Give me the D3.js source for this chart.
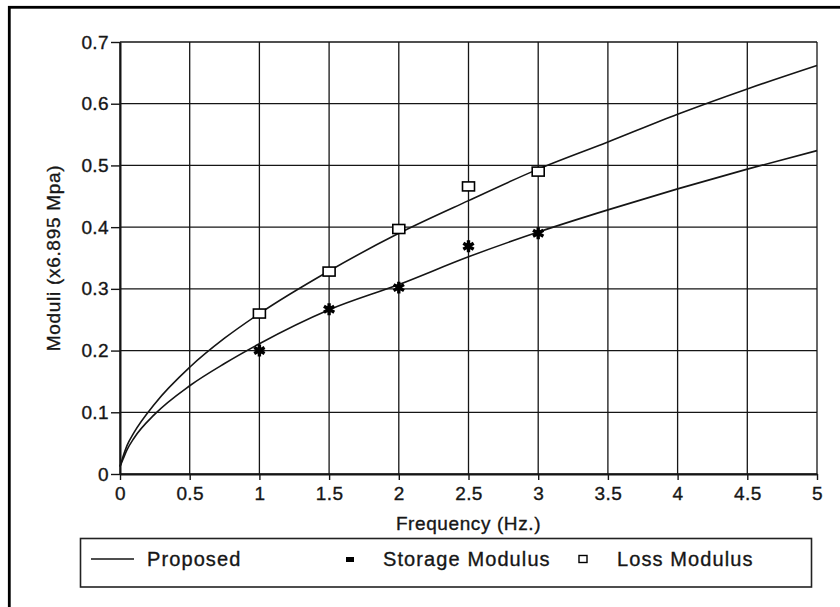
<!DOCTYPE html>
<html>
<head>
<meta charset="utf-8">
<script src="https://cdn.jsdelivr.net/npm/d3@7"></script>
<style>
  html, body { margin: 0; padding: 0; background: #fff; }
  svg { display: block; }
  text { font-family: "Liberation Sans", Arial, Helvetica, sans-serif; fill: #161616; stroke: #161616; stroke-width: 0.35px; }
</style>
</head>
<body>
<svg id="chart" width="840" height="607"></svg>
<script>
// ---- data ----
const xTicks = [0, 0.5, 1, 1.5, 2, 2.5, 3, 3.5, 4, 4.5, 5];
const yTicks = [0, 0.1, 0.2, 0.3, 0.4, 0.5, 0.6, 0.7];
const xTickLabels = ["0", "0.5", "1", "1.5", "2", "2.5", "3", "3.5", "4", "4.5", "5"];
const yTickLabels = ["0", "0.1", "0.2", "0.3", "0.4", "0.5", "0.6", "0.7"];

// "Proposed" model curves
const curveX     = [0, 0.02, 0.05, 0.1, 0.25, 0.5, 0.75, 1, 1.5, 2, 2.5, 3, 3.5, 4, 4.5, 5];
const curveLoss  = [0.012, 0.027, 0.046, 0.067, 0.114, 0.173, 0.220, 0.260, 0.329, 0.390, 0.443, 0.494, 0.538, 0.583, 0.624, 0.662];
const curveStore = [0.012, 0.023, 0.039, 0.058, 0.097, 0.143, 0.179, 0.211, 0.266, 0.307, 0.352, 0.392, 0.428, 0.462, 0.494, 0.524];

// measured points
const pointX        = [1, 1.5, 2, 2.5, 3];
const storageModulus = [0.200, 0.267, 0.302, 0.369, 0.390];
const lossModulus    = [0.260, 0.328, 0.397, 0.466, 0.490];

const legendLabels = ["Proposed", "Storage Modulus", "Loss Modulus"];
const xTitle = "Frequency (Hz.)";
const yTitle = "Moduli (x6.895 Mpa)";

// ---- drawing ----
const svg = d3.select("#chart");
const ink = "#151515";

// outer frame (only top and left edges are visible in the crop)
svg.append("rect")
  .attr("x", 9.3).attr("y", 7.3).attr("width", 900).attr("height", 700)
  .attr("fill", "none").attr("stroke", "#000").attr("stroke-width", 2.8);

const x = d3.scaleLinear().domain([0, 5]).range([120, 817]);
const y = d3.scaleLinear().domain([0, 0.7]).range([474, 42]);

// grid
const grid = svg.append("g").attr("stroke", ink).attr("stroke-width", 1.3);
grid.selectAll("line.v").data(xTicks).join("line")
  .attr("x1", d => x(d)).attr("x2", d => x(d))
  .attr("y1", y(0)).attr("y2", y(0.7));
grid.selectAll("line.h").data(yTicks).join("line")
  .attr("x1", x(0)).attr("x2", x(5))
  .attr("y1", d => y(d)).attr("y2", d => y(d));

// axes
const xAxis = d3.axisBottom(x).tickValues(xTicks)
  .tickFormat((d, i) => xTickLabels[i]).tickSizeInner(6).tickSizeOuter(0).tickPadding(7);
const yAxis = d3.axisLeft(y).tickValues(yTicks)
  .tickFormat((d, i) => yTickLabels[i]).tickSizeInner(9).tickSizeOuter(0).tickPadding(2);

const gx = svg.append("g").attr("transform", `translate(0,${y(0)})`).call(xAxis);
const gy = svg.append("g").attr("transform", `translate(${x(0)},0)`).call(yAxis);
[gx, gy].forEach(g => {
  g.select(".domain").attr("stroke", ink).attr("stroke-width", 2);
  g.selectAll(".tick line").attr("stroke", ink).attr("stroke-width", 1.4);
  g.selectAll(".tick text")
    .attr("fill", "#161616")
    .style("font-family", '"Liberation Sans", Arial, sans-serif')
    .style("font-size", "19px")
    .style("letter-spacing", "0.4px");
});

// axis titles
svg.append("text")
  .attr("x", (x(0) + x(5)) / 2).attr("y", 530)
  .attr("text-anchor", "middle")
  .style("font-size", "19px").style("letter-spacing", "0.6px")
  .text(xTitle);
svg.append("text")
  .attr("transform", `translate(60,${(y(0) + y(0.7)) / 2}) rotate(-90)`)
  .attr("text-anchor", "middle")
  .style("font-size", "19px").style("letter-spacing", "0.7px")
  .text(yTitle);

// curves
const line = d3.line().curve(d3.curveMonotoneX);
[curveLoss, curveStore].forEach(vals => {
  svg.append("path")
    .attr("d", line(curveX.map((xv, i) => [x(xv), y(vals[i])])))
    .attr("fill", "none").attr("stroke", ink).attr("stroke-width", 1.6);
});

// markers
const star = d3.symbol().type(d3.symbolAsterisk).size(100);
svg.append("g").selectAll("path").data(pointX).join("path")
  .attr("transform", (d, i) => `translate(${x(d)},${y(storageModulus[i])})`)
  .attr("d", star)
  .attr("fill", "none").attr("stroke", "#000").attr("stroke-width", 3.4);

svg.append("g").selectAll("rect").data(pointX).join("rect")
  .attr("x", d => x(d) - 6).attr("y", (d, i) => y(lossModulus[i]) - 4.5)
  .attr("width", 12).attr("height", 9)
  .attr("fill", "#fff").attr("stroke", "#000").attr("stroke-width", 1.6);

// legend
const lg = svg.append("g");
lg.append("rect").attr("x", 80.5).attr("y", 538.5).attr("width", 731).attr("height", 48.5)
  .attr("fill", "none").attr("stroke", "#222").attr("stroke-width", 1.6);
lg.append("line").attr("x1", 91).attr("x2", 134).attr("y1", 559).attr("y2", 559)
  .attr("stroke", ink).attr("stroke-width", 1.4);
lg.append("rect").attr("x", 346).attr("y", 557).attr("width", 8).attr("height", 5)
  .attr("fill", "#000");
lg.append("rect").attr("x", 579).attr("y", 555.5).attr("width", 8).attr("height", 7)
  .attr("fill", "#fff").attr("stroke", "#000").attr("stroke-width", 1.4);
const legendX = [147, 383, 617];
lg.selectAll("text.lab").data(legendLabels).join("text")
  .attr("x", (d, i) => legendX[i]).attr("y", 566)
  .style("font-size", "20px").style("letter-spacing", "1.1px")
  .text(d => d);
</script>
</body>
</html>
